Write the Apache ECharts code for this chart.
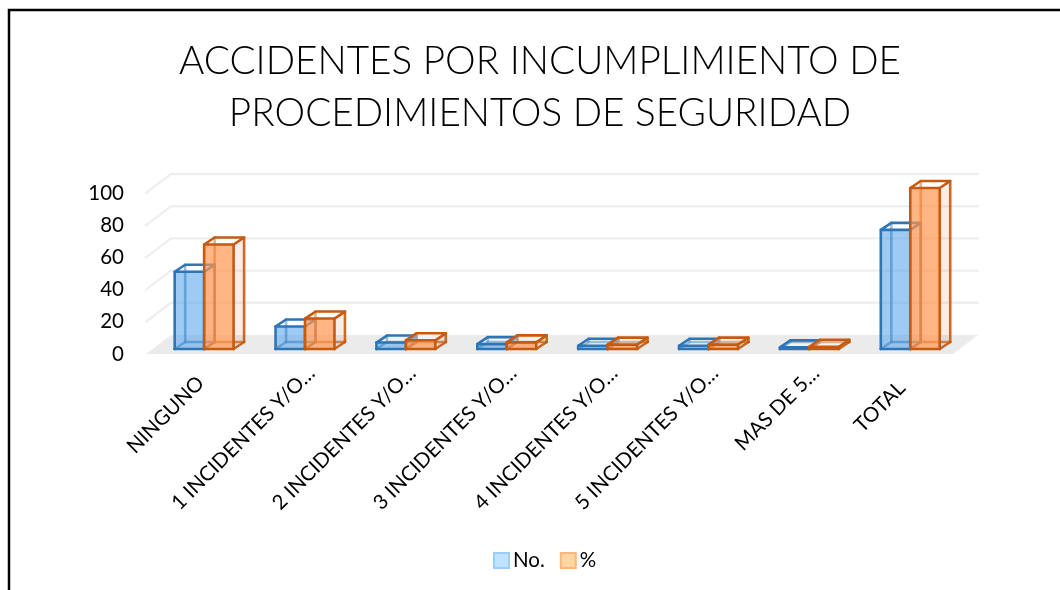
<!DOCTYPE html>
<html><head><meta charset="utf-8">
<style>html,body{margin:0;padding:0;background:#fff}#c{width:1060px;height:590px}</style>
<script src="https://cdn.jsdelivr.net/npm/echarts@6/dist/echarts.min.js"></script>
</head><body><div id="c"></div>
<script>
const titleText = 'ACCIDENTES POR INCUMPLIMIENTO DE\nPROCEDIMIENTOS DE SEGURIDAD';
const categories = ['NINGUNO','1 INCIDENTES Y/O…','2 INCIDENTES Y/O…','3 INCIDENTES Y/O…','4 INCIDENTES Y/O…','5 INCIDENTES Y/O…','MAS DE 5…','TOTAL'];
const countValues = [48,14,4,3,2,2,1,74];
const percentValues = [64.9,18.9,5.4,4.1,2.7,2.7,1.4,100];
const yTicks = [0,20,40,60,80,100];

const FONT = 'Lato, "Open Sans", sans-serif';
const WALL = {dx:25, dy:-19};
const BASE = {dx:7.7, dy:-5};
const DEPTH = {dx:10.5, dy:-7};
const STROKE = 2.6;

function labelShift(name){
  if (name === 'NINGUNO') return -6;
  if (name === 'TOTAL') return 1;
  return -20;
}

function poly(points, style){ return {type:'polygon', shape:{points}, style}; }
function line(a, b, stroke, width, opacity){
  return {type:'line', shape:{x1:a[0],y1:a[1],x2:b[0],y2:b[1]}, style:{stroke, lineWidth:width, opacity, lineCap:'round'}};
}

function wallItem(params, api){
  const cs = params.coordSys;
  const v = api.value(0);
  const y = api.coord([0, v])[1];
  const l = cs.x, r = cs.x + cs.width;
  if (v === 0) {
    return {type:'group', children:[poly([[l,y],[r,y],[r+WALL.dx,y+WALL.dy],[l+WALL.dx,y+WALL.dy]], {fill:'#ebebeb'})]};
  }
  const c = '#efefef';
  return {type:'group', children:[
    line([l,y],[l+WALL.dx,y+WALL.dy],c,2.4,1),
    line([l+WALL.dx,y+WALL.dy],[r+WALL.dx,y+WALL.dy],c,2.4,1)
  ]};
}

function boxItem(slot, stroke, fill, sideFill){
  return function(params, api){
    const cat = api.value(0), val = api.value(1);
    const top = api.coord([cat, val]), bot = api.coord([cat, 0]);
    const w = api.size([1,0])[0] * 0.292;
    const x0 = top[0] + BASE.dx + slot * w, x1 = x0 + w;
    const yb = bot[1] + BASE.dy, yt = top[1] + BASE.dy;
    const d = DEPTH;
    const fbl=[x0,yb], fbr=[x1,yb], ftl=[x0,yt], ftr=[x1,yt];
    const bbl=[x0+d.dx,yb+d.dy], bbr=[x1+d.dx,yb+d.dy], btl=[x0+d.dx,yt+d.dy], btr=[x1+d.dx,yt+d.dy];
    const ch = [];
    ch.push(poly([fbr,bbr,btr,ftr], {fill:sideFill}));
    ch.push(line(bbl,btl,stroke,STROKE,0.7));
    ch.push(line(bbl,bbr,stroke,STROKE,0.7));
    ch.push(line(fbl,bbl,stroke,STROKE,0.7));
    ch.push(line(fbr,bbr,stroke,STROKE,0.9));
    ch.push(line(bbr,btr,stroke,STROKE,0.9));
    ch.push(poly([fbl,fbr,ftr,ftl], {fill}));
    ch.push(poly([ftl,ftr,btr,btl], {fill:'rgba(255,255,255,0.35)', stroke, lineWidth:STROKE, lineJoin:'round'}));
    ch.push(line(ftr,fbr,stroke,STROKE,1));
    ch.push(line(ftl,fbl,stroke,STROKE,1));
    ch.push(line(fbl,fbr,stroke,STROKE,1));
    return {type:'group', children:ch};
  };
}

const chart = echarts.init(document.getElementById('c'), null, {renderer:'canvas'});
chart.setOption({
  animation:false,
  backgroundColor:'#fff',
  textStyle:{fontFamily:FONT},
  title:{text:titleText, left:535, top:31, textAlign:'center',
    textStyle:{fontFamily:FONT, fontWeight:300, fontSize:38.7, lineHeight:52, color:'#000'}},
  legend:{left:488, top:545, itemWidth:15, itemHeight:15, itemGap:15, icon:'rect',
    textStyle:{fontFamily:FONT, fontSize:20.5, color:'#000', padding:[0,0,0,-1]},
    data:[
      {name:'No.', itemStyle:{color:'#bfe4ff', borderColor:'#9dcdf7', borderWidth:2}},
      {name:'%', itemStyle:{color:'#ffd6a0', borderColor:'#fcb67e', borderWidth:2}}
    ]},
  grid:{left:146, right:107, top:193, bottom:236},
  xAxis:{type:'category',
    data:categories.map(name=>({value:name, textStyle:{padding:[0,labelShift(name),0,0]}})),
    axisLine:{show:false}, axisTick:{show:false},
    axisLabel:{rotate:45, interval:0, margin:30, fontFamily:FONT, fontSize:20.5, color:'#000', overflow:'none'}},
  yAxis:{type:'value', min:0, max:100, interval:20, axisLine:{show:false}, axisTick:{show:false},
    splitLine:{show:false}, axisLabel:{margin:22, padding:[4,0,0,0], fontFamily:FONT, fontSize:20.5, color:'#000'}},
  graphic:[{type:'polyline', silent:true, z:0, shape:{points:[[9,590],[9,10],[1060,10]]}, style:{stroke:'#000', lineWidth:2.5, fill:null}}],
  series:[
    {type:'custom', name:'walls', z:1, silent:true, data:yTicks.map(v=>[v]), encode:{y:0}, renderItem:wallItem, clip:false},
    {type:'custom', name:'No.', z:2, data:countValues.map((v,i)=>[i,v]), encode:{x:0,y:1},
      itemStyle:{color:'#bfe4ff'}, clip:false,
      renderItem:boxItem(-1,'#2e75b6','rgba(90,165,232,0.58)','rgba(120,120,120,0.10)')},
    {type:'custom', name:'%', z:3, data:percentValues.map((v,i)=>[i,v]), encode:{x:0,y:1},
      itemStyle:{color:'#ffd6a0'}, clip:false,
      renderItem:boxItem(0,'#c55a11','rgba(255,150,80,0.7)','rgba(197,120,90,0.13)')}
  ]
});
</script></body></html>
